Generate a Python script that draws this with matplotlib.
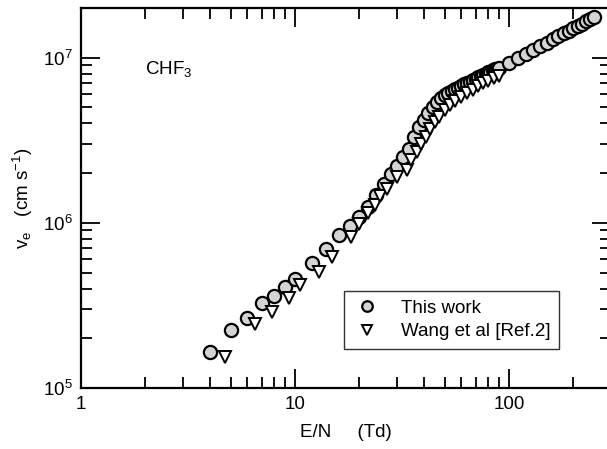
import numpy as np
import matplotlib.pyplot as plt
from matplotlib.ticker import LogLocator, NullFormatter

plt.rcParams['font.family'] = ['Liberation Sans', 'DejaVu Sans']
plt.rcParams['mathtext.fontset'] = 'custom'
plt.rcParams['mathtext.rm'] = 'Liberation Sans'
plt.rcParams['mathtext.it'] = 'Liberation Sans'

# drift velocity in CHF3, this work
en_this = [4, 5, 6, 7, 8, 9, 10, 12, 14, 16, 18, 20, 22, 24, 26, 28, 30, 32, 34,
           36, 38, 40, 42, 44, 46, 48, 50, 52, 54, 56, 58, 60, 62, 64, 66, 68,
           70, 72, 74, 76, 78, 80, 82, 84, 86, 88, 90, 100, 110, 120, 130, 140,
           150, 160, 170, 180, 190, 200, 210, 220, 230, 240, 250]
ve_this = [1.65e5, 2.25e5, 2.66e5, 3.25e5, 3.6e5, 4.1e5, 4.6e5, 5.7e5, 6.9e5,
           8.4e5, 9.6e5, 1.08e6, 1.25e6, 1.48e6, 1.72e6, 1.98e6, 2.2e6, 2.5e6,
           2.8e6, 3.3e6, 3.8e6, 4.2e6, 4.6e6, 5.0e6, 5.4e6, 5.7e6, 5.95e6,
           6.15e6, 6.3e6, 6.45e6, 6.6e6, 6.75e6, 6.9e6, 7.0e6, 7.15e6, 7.3e6,
           7.45e6, 7.6e6, 7.75e6, 7.9e6, 8.0e6, 8.15e6, 8.25e6, 8.4e6, 8.5e6,
           8.6e6, 8.7e6, 9.3e6, 9.9e6, 1.05e7, 1.11e7, 1.17e7, 1.23e7, 1.29e7,
           1.35e7, 1.41e7, 1.46e7, 1.51e7, 1.56e7, 1.61e7, 1.66e7, 1.71e7,
           1.77e7]

# Wang et al
en_wang = [4.7, 6.5, 7.8, 9.4, 10.6, 12.9, 14.9, 18.2, 20, 22, 23.7, 25, 27,
           30, 33.4, 35, 37, 39, 41, 43, 45, 47, 50, 53, 56, 60, 64, 68, 72,
           76, 80, 85, 90]
ve_wang = [1.54e5, 2.44e5, 2.9e5, 3.5e5, 4.2e5, 5.05e5, 6.2e5, 8.2e5, 9.8e5,
           1.15e6, 1.29e6, 1.45e6, 1.6e6, 1.9e6, 2.1e6, 2.4e6, 2.7e6, 3.0e6,
           3.3e6, 3.7e6, 4.1e6, 4.4e6, 4.8e6, 5.2e6, 5.5e6, 5.8e6, 6.1e6,
           6.4e6, 6.7e6, 7.0e6, 7.25e6, 7.5e6, 7.8e6]

fig = plt.figure(figsize=(6.07, 4.49), dpi=100)
ax = fig.add_axes([81/607, 61/449, 530/607, 380/449])

ax.plot(en_this, ve_this, 'o', ms=9.5, mfc='#d4d4d4', mec='black', mew=1.6,
        label='This work')
ax.plot(en_wang, ve_wang, 'v', ms=8.5, mfc='white', mec='black', mew=1.4,
        label='Wang et al [Ref.2]')

ax.set_xscale('log')
ax.set_yscale('log')
ax.set_xlim(1, 300)
ax.set_ylim(1e5, 2e7)

ax.xaxis.set_minor_locator(LogLocator(base=10, subs=np.arange(2, 10)))
ax.yaxis.set_minor_locator(LogLocator(base=10, subs=np.arange(2, 10)))
ax.xaxis.set_minor_formatter(NullFormatter())
ax.yaxis.set_minor_formatter(NullFormatter())
ax.set_xticks([1, 10, 100])
ax.set_xticklabels(['1', '10', '100'])

ax.tick_params(which='both', direction='in', top=True, right=True,
               labelsize=13.5, width=1.3)
ax.tick_params(which='major', length=14, pad=6)
ax.tick_params(which='minor', length=8)
for s in ax.spines.values():
    s.set_linewidth(1.6)

ax.set_xlabel('E/N     (Td)', fontsize=13.5, labelpad=8)
ax.set_ylabel(r'v$_\mathregular{e}$   (cm s$^\mathregular{-1}$)', fontsize=13.5,
              labelpad=6)

ax.text(0.12, 0.84, r'CHF$_\mathregular{3}$', transform=ax.transAxes,
        fontsize=13.5, va='center')

leg = ax.legend(loc='lower right', bbox_to_anchor=(0.902, 0.103),
                borderaxespad=0, fontsize=13.5, frameon=True, fancybox=False,
                edgecolor='black', markerscale=0.8, handlelength=1.6,
                handletextpad=1.0, borderpad=0.45, labelspacing=0.35)
leg.get_frame().set_linewidth(1.0)

fig.savefig('out.png', dpi=100)
